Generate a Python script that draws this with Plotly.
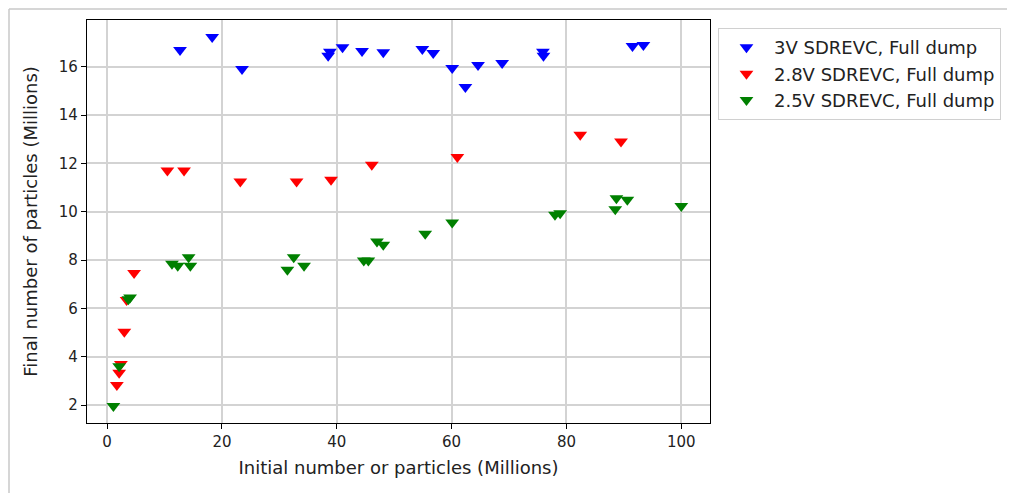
import plotly.graph_objects as go

# 3V SDREVC, Full dump
x_3v = [12.7, 18.3, 23.5, 38.5, 38.8, 41.0, 44.4, 48.1, 54.9, 56.8, 60.1, 62.4, 64.6, 68.8, 75.9, 76.0, 91.5, 93.4]
y_3v = [16.69, 17.23, 15.90, 16.45, 16.62, 16.80, 16.65, 16.60, 16.73, 16.56, 15.94, 15.16, 16.07, 16.15, 16.62, 16.45, 16.85, 16.90]

# 2.8V SDREVC, Full dump
x_28v = [1.7, 2.1, 2.4, 3.0, 3.4, 4.7, 10.5, 13.4, 23.2, 33.0, 39.0, 46.1, 61.0, 82.4, 89.5]
y_28v = [2.83, 3.34, 3.70, 5.03, 6.35, 7.46, 11.70, 11.70, 11.25, 11.25, 11.32, 11.94, 12.26, 13.18, 12.90]

# 2.5V SDREVC, Full dump
x_25v = [1.1, 2.1, 3.7, 4.0, 11.3, 12.3, 14.2, 14.5, 31.4, 32.5, 34.3, 44.7, 45.5, 47.0, 48.1,
         55.4, 60.1, 78.0, 78.9, 88.5, 88.7, 90.6, 100.0]
y_25v = [1.96, 3.61, 6.38, 6.45, 7.85, 7.76, 8.12, 7.76, 7.60, 8.12, 7.76, 7.98, 7.98, 8.77, 8.63,
         9.09, 9.55, 9.87, 9.94, 10.10, 10.56, 10.49, 10.24]

series = [
    ("3V SDREVC, Full dump", x_3v, y_3v, "#0000ff"),
    ("2.8V SDREVC, Full dump", x_28v, y_28v, "#ff0000"),
    ("2.5V SDREVC, Full dump", x_25v, y_25v, "#008000"),
]

x_ticks = [0, 20, 40, 60, 80, 100]
y_ticks = [2, 4, 6, 8, 10, 12, 14, 16]

FONT = "DejaVu Sans"

fig = go.Figure()
for name, xs, ys, col in series:
    fig.add_trace(go.Scatter(
        x=xs, y=ys, mode="markers", name=name,
        marker=dict(symbol="triangle-down", size=12, color=col, line=dict(width=0)),
    ))

axis_common = dict(
    showline=True, linecolor="#000000", linewidth=1.2, mirror=True,
    ticks="outside", ticklen=5, tickcolor="#000000", tickwidth=1,
    showgrid=True, gridcolor="#d3d3d3", gridwidth=1.6, zeroline=False,
    tickfont=dict(family=FONT, size=15, color="#222222"),
)

# page body has an 8px margin, so the figure is sized and placed to compensate
fig.update_layout(
    width=1007, height=485,
    paper_bgcolor="white", plot_bgcolor="white",
    margin=dict(l=79, r=305, t=12, b=70),
    font=dict(family=FONT, size=15, color="#222222"),
    xaxis=dict(range=[-3.5, 105.0], tickvals=x_ticks,
               title=dict(text="Initial number or particles (Millions)", font=dict(family=FONT, size=18), standoff=11),
               **axis_common),
    yaxis=dict(range=[1.26, 17.93], tickvals=y_ticks,
               title=dict(text="Final number of particles (Millions)", font=dict(family=FONT, size=18), standoff=16),
               **axis_common),
    legend=dict(x=1.0128, y=0.980, xanchor="left", yanchor="top",
                bordercolor="#d0d0d0", borderwidth=1, bgcolor="white",
                font=dict(family=FONT, size=18, color="#222222"),
                itemwidth=45, tracegroupgap=0),
    showlegend=True,
)

# notebook-style frame lines (left and top)
fig.add_shape(type="line", xref="paper", yref="paper",
              x0=-0.1252, x1=-0.1252, y0=1.0273, y1=-0.18,
              line=dict(color="#c8c8c8", width=1.5))
fig.add_shape(type="line", xref="paper", yref="paper",
              x0=-0.1252, x1=1.49, y0=1.0273, y1=1.0273,
              line=dict(color="#c8c8c8", width=1.5))

fig.write_html("out.html")
